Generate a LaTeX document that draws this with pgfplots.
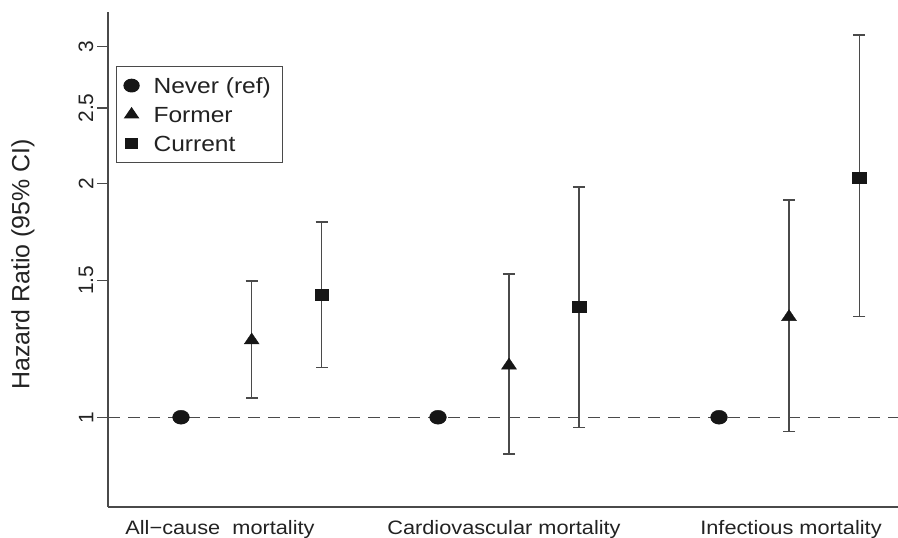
\documentclass[border=0pt]{standalone}
\usepackage{fontspec}
\setmainfont{Liberation Sans}[FakeStretch=1.12]
\newfontfamily\plainfont{Liberation Sans}
\usepackage{pgfplots}
\usepackage{pgfplotstable}
\pgfplotsset{compat=1.18}

\definecolor{inkline}{HTML}{4A4A4A}
\definecolor{inkmark}{HTML}{161616}
\definecolor{inktext}{HTML}{222222}

% hazard ratios with 95% confidence limits; x = horizontal position of each estimate
\pgfplotstableread{
x     y     lo    hi
181   1.000 1.000 1.000
438   1.000 1.000 1.000
719   1.000 1.000 1.000
}\never
\pgfplotstableread{
x     y     lo    hi
251.7 1.256 1.059 1.498
509   1.166 0.897 1.528
789   1.346 0.958 1.904
}\former
\pgfplotstableread{
x     y     lo    hi
321.7 1.437 1.158 1.784
579   1.388 0.970 1.980
859.3 2.036 1.347 3.104
}\current

\begin{document}
\begin{tikzpicture}
\begin{axis}[
  at={(108bp,31bp)}, anchor=south west,
  scale only axis, width=790bp, height=495.3bp,
  xmin=108, xmax=898,
  ymode=log, ymin=0.7666, ymax=3.326,
  axis lines*=left,
  axis line style={line width=1.3bp, draw=inkline, -},
  ytick={1,1.5,2,2.5,3}, yticklabels={1,1.5,2,2.5,3},
  yminorticks=false,
  ytick style={line width=1.3bp, draw=inkline},
  tick align=outside, major tick length=10.5bp,
  yticklabel shift=4bp,
  yticklabel style={rotate=90, anchor=south, inner sep=0pt, text=inktext,
    font=\plainfont\fontsize{21}{21}\selectfont},
  xtick={220,504,791},
  xticklabels={All−cause\ \ mortality, Cardiovascular mortality, Infectious mortality},
  xtick style={draw=none},
  xticklabel style={anchor=north, inner sep=0pt, text=inktext, yshift=-2.5bp,
    font=\fontsize{19.5}{19.5}\selectfont},
  ylabel={Hazard Ratio (95\% CI)},
  ylabel style={at={(axis description cs:-0.1076,0.4896)}, anchor=center,
    inner sep=0pt, text=inktext, font=\plainfont\fontsize{25}{25}\selectfont},
  clip=false,
  legend cell align=left,
  legend style={at={(0.0101,0.8904)}, anchor=north west,
    draw=inkline, line width=1.2bp, fill=white,
    inner xsep=4bp, inner ysep=7.5bp, row sep=6bp, column sep=10bp,
    font=\fontsize{22}{22}\selectfont,
    nodes={text height=18bp, text depth=3bp, inner sep=1bp, text=inktext}},
  legend image code/.code={
    \path[draw=none, fill=none] (0bp,-8bp) rectangle (22bp,8bp);
    \draw[#1, /tikz/every mark/.append style={scale=0.9}] plot coordinates {(11bp,0bp)};
  },
  error bars/y dir=both, error bars/y explicit,
  error bars/error bar style={line width=1.5bp, draw=inkline},
  error bars/error mark options={rotate=90, mark size=6bp, line width=1.5bp, draw=inkline},
]
% reference line at a hazard ratio of 1
\addplot[forget plot, line width=1.4bp, draw=inkline, dash pattern=on 12bp off 8bp]
  coordinates {(108,1) (898,1)};

\addplot[only marks, mark=*, mark size=7bp,
  mark options={xscale=1.2, fill=inkmark, draw=inkmark}]
  table[x=x, y=y] {\never};
\addlegendentry{Never (ref)\hspace*{7bp}\null}

\addplot[only marks, mark=triangle*, mark size=7.3bp,
  mark options={xscale=1.18, fill=inkmark, draw=inkmark}]
  table[x=x, y=y,
    y error plus expr=\thisrow{hi}-\thisrow{y},
    y error minus expr=\thisrow{y}-\thisrow{lo}] {\former};
\addlegendentry{Former}

\addplot[only marks, mark=square*, mark size=5.5bp,
  mark options={xscale=1.25, fill=inkmark, draw=inkmark}]
  table[x=x, y=y,
    y error plus expr=\thisrow{hi}-\thisrow{y},
    y error minus expr=\thisrow{y}-\thisrow{lo}] {\current};
\addlegendentry{Current}
\end{axis}
\pgfresetboundingbox
\path[use as bounding box] (0bp,0bp) rectangle (898bp,538bp);
\end{tikzpicture}
\end{document}
